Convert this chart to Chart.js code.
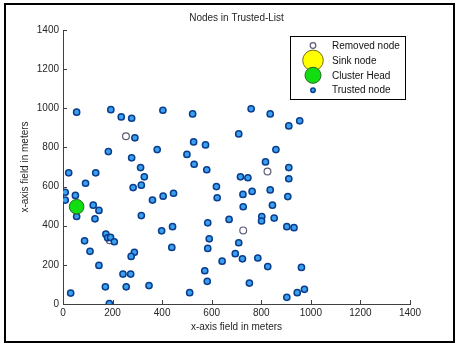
<!DOCTYPE html>
<html>
<head>
<meta charset="utf-8">
<script src="https://cdn.jsdelivr.net/npm/chart.js@4/dist/chart.umd.min.js"></script>
<style>
  html, body { margin: 0; padding: 0; background: #fff; }
  canvas { display: block; }
</style>
</head>
<body>
<canvas id="chart" width="457" height="346"></canvas>
<script>
// Node positions in meters
const trustedNodes = [
  [55, 980], [193, 993], [235, 956], [277, 949], [403, 990], [523, 971], [759, 997], [836, 971], [911, 910], [955, 936],
  [290, 849], [709, 869], [527, 828], [575, 813], [183, 779], [380, 789], [500, 764], [859, 789], [277, 747], [529, 714],
  [817, 726], [313, 697], [580, 686], [911, 697], [23, 670], [132, 670], [328, 650], [716, 650], [746, 645], [911, 640],
  [91, 617], [316, 607], [283, 595], [619, 600], [9, 571], [50, 555], [446, 566], [404, 551], [726, 560], [763, 575],
  [836, 583], [907, 549], [9, 531], [361, 531], [622, 543], [122, 505], [845, 505], [727, 497], [145, 478], [55, 447],
  [129, 435], [316, 452], [584, 415], [670, 432], [802, 447], [801, 424], [852, 439], [442, 395], [903, 395], [932, 390],
  [398, 374], [173, 357], [180, 338], [192, 340], [207, 318], [87, 323], [590, 333], [709, 313], [439, 289], [584, 284],
  [109, 269], [288, 264], [275, 243], [695, 257], [724, 231], [786, 235], [642, 219], [145, 197], [826, 191], [962, 187],
  [572, 170], [242, 153], [273, 153], [582, 116], [752, 107], [171, 88], [255, 88], [347, 94], [31, 56], [511, 58],
  [974, 75], [945, 58], [903, 34], [187, 2]
]
const removedNodes = [[254, 857], [825, 677], [727, 376], [188, 326]]
const sinkNodes = []
const clusterHeads = [[55, 497]]

const axisTicks = [0, 200, 400, 600, 800, 1000, 1200, 1400]

const toPoints = list => list.map(([x, y]) => ({ x, y }))

const FONT = { family: "Arial, 'Liberation Sans', sans-serif", size: 10, weight: "normal" }
const AXIS_COLOR = "#404040"
const TEXT_COLOR = "#262626"

// outer black frame of the figure
const framePlugin = {
  id: "frame",
  afterDraw(chart) {
    const ctx = chart.ctx
    ctx.save()
    ctx.strokeStyle = "#000"
    ctx.lineWidth = 2
    ctx.strokeRect(5, 4, 449, 338)
    ctx.restore()
  }
}

// matlab style ticks pointing into the plot
const innerTicksPlugin = {
  id: "innerTicks",
  afterDraw(chart) {
    const { ctx, chartArea, scales } = chart
    ctx.save()
    ctx.strokeStyle = AXIS_COLOR
    ctx.lineWidth = 1
    ctx.beginPath()
    axisTicks.forEach(v => {
      const px = Math.round(scales.x.getPixelForValue(v)) + 0.5
      ctx.moveTo(px, chartArea.bottom)
      ctx.lineTo(px, chartArea.bottom - 4)
      const py = Math.round(scales.y.getPixelForValue(v)) + 0.5
      ctx.moveTo(chartArea.left, py)
      ctx.lineTo(chartArea.left + 4, py)
    })
    ctx.stroke()
    ctx.restore()
  }
}

// boxed legend inside the top right of the plot
const boxLegendPlugin = {
  id: "boxLegend",
  afterDraw(chart, args, opts) {
    const ctx = chart.ctx
    ctx.save()
    ctx.fillStyle = "#fff"
    ctx.fillRect(opts.x, opts.y, opts.w, opts.h)
    ctx.strokeStyle = "#000"
    ctx.lineWidth = 1
    ctx.strokeRect(opts.x + 0.5, opts.y + 0.5, opts.w, opts.h)
    ctx.font = `${FONT.size}px ${FONT.family}`
    ctx.textBaseline = "middle"
    opts.items.forEach((item, i) => {
      const ds = chart.data.datasets[item.dataset]
      const cy = opts.y + opts.rowTop + i * opts.rowGap
      ctx.beginPath()
      ctx.arc(opts.x + opts.markerX, cy, item.radius, 0, Math.PI * 2)
      ctx.fillStyle = ds.backgroundColor
      ctx.fill()
      ctx.lineWidth = ds.borderWidth
      ctx.strokeStyle = ds.borderColor
      ctx.stroke()
      ctx.fillStyle = "#111"
      ctx.fillText(ds.label, opts.x + opts.textX, cy + 0.5)
    })
    ctx.restore()
  }
}

new Chart(document.getElementById("chart"), {
  type: "scatter",
  data: {
    datasets: [
      {
        label: "Removed node",
        data: toPoints(removedNodes),
        backgroundColor: "#ffffff",
        borderColor: "#5a5a78",
        borderWidth: 1.2,
        pointRadius: 3.4,
        order: 2
      },
      {
        label: "Sink node",
        data: sinkNodes,
        backgroundColor: "#ffff00",
        borderColor: "#7a6a10",
        borderWidth: 1,
        pointRadius: 10,
        order: 3
      },
      {
        label: "Cluster Head",
        data: toPoints(clusterHeads),
        backgroundColor: "#11dd11",
        borderColor: "#1f6a1f",
        borderWidth: 1,
        pointRadius: 7.3,
        order: 0
      },
      {
        label: "Trusted node",
        data: toPoints(trustedNodes),
        backgroundColor: "#3aa0f0",
        borderColor: "#0b3d8c",
        borderWidth: 1.5,
        pointRadius: 3.1,
        order: 1
      }
    ]
  },
  options: {
    responsive: false,
    animation: false,
    events: [],
    layout: {
      padding: { left: 0, right: 47, top: 0, bottom: 0 }
    },
    scales: {
      x: {
        type: "linear",
        min: 0,
        max: 1400,
        afterFit: scale => { scale.height = 42 },
        afterBuildTicks: scale => { scale.ticks = axisTicks.map(v => ({ value: v })) },
        ticks: { color: TEXT_COLOR, font: FONT, padding: 3, maxRotation: 0, callback: v => String(v) },
        grid: { display: false, drawTicks: false },
        border: { display: true, color: AXIS_COLOR, width: 1 },
        title: {
          display: true,
          text: "x-axis field in meters",
          color: TEXT_COLOR,
          font: FONT,
          padding: { top: 0, bottom: 13 }
        }
      },
      y: {
        type: "linear",
        min: 0,
        max: 1400,
        afterFit: scale => { scale.width = 63 },
        afterBuildTicks: scale => { scale.ticks = axisTicks.map(v => ({ value: v })) },
        ticks: { color: TEXT_COLOR, font: FONT, padding: 4, callback: v => String(v) },
        grid: { display: false, drawTicks: false },
        border: { display: true, color: AXIS_COLOR, width: 1 },
        title: {
          display: true,
          text: "x-axis field in meters",
          color: TEXT_COLOR,
          font: FONT,
          padding: { top: 19, bottom: 0 }
        }
      }
    },
    plugins: {
      legend: { display: false },
      tooltip: { enabled: false },
      title: {
        display: true,
        text: "Nodes in Trusted-List",
        color: TEXT_COLOR,
        font: FONT,
        fullSize: false,
        padding: { top: 12, bottom: 6 }
      },
      boxLegend: {
        x: 290,
        y: 36,
        w: 115,
        h: 63,
        markerX: 23,
        textX: 42,
        rowTop: 9.5,
        rowGap: 14.9,
        items: [
          { dataset: 0, radius: 2.8 },
          { dataset: 1, radius: 10.3 },
          { dataset: 2, radius: 8 },
          { dataset: 3, radius: 2.2 }
        ]
      }
    }
  },
  plugins: [innerTicksPlugin, boxLegendPlugin, framePlugin]
})
</script>
</body>
</html>
